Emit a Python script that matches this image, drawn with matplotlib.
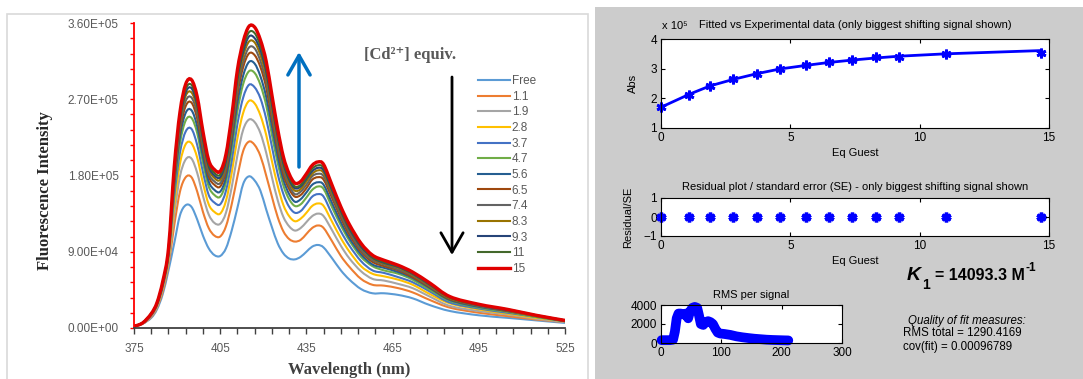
import numpy as np
import matplotlib.pyplot as plt
from matplotlib.patches import Rectangle, PathPatch
from matplotlib.path import Path
from matplotlib.lines import Line2D
from matplotlib.ticker import FuncFormatter

plt.rcParams['font.family'] = ['Liberation Sans', 'DejaVu Sans']

W, H = 1083, 379

# ---- left panel: fluorescence spectra, intensity in units of 1e4 ----
wavelength = [375, 378, 381, 383, 385, 387, 389, 391, 393, 395,
              397, 399, 401, 403, 405, 407, 409, 411, 413, 415,
              417, 419, 421, 423, 425, 427, 429, 431, 433, 435,
              437, 439, 441, 444, 447, 450, 454, 458, 462, 467,
              472, 478, 485, 495, 505, 515, 525]

s_free = [0.2, 0.5, 1.2, 2.2, 4.0, 6.8, 10.0, 13.3, 14.5, 14.3,
          12.8, 10.9, 9.4, 8.6, 8.5, 9.4, 11.5, 14.2, 17.0, 17.9,
          17.4, 16.2, 14.0, 11.9, 10.0, 8.8, 8.2, 8.1, 8.4, 9.0,
          9.6, 9.8, 9.5, 8.2, 6.8, 5.7, 4.6, 4.1, 4.1, 3.9,
          3.5, 2.7, 2.0, 1.5, 1.2, 0.9, 0.6]
s_1_1 = [0.2, 0.5, 1.3, 2.4, 4.3, 7.4, 12.1, 16.1, 17.8, 17.8,
         16.1, 13.7, 11.8, 10.9, 10.8, 12.0, 14.6, 17.9, 20.9, 22.0,
         21.6, 20.3, 18.0, 15.5, 13.1, 11.4, 10.5, 10.2, 10.4, 11.1,
         11.8, 12.1, 11.8, 10.2, 8.5, 7.2, 5.8, 5.1, 5.0, 4.7,
         4.2, 3.3, 2.4, 1.8, 1.4, 1.0, 0.7]
s_1_9 = [0.2, 0.5, 1.4, 2.5, 4.6, 7.8, 13.4, 17.9, 19.9, 20.0,
         18.3, 15.6, 13.4, 12.4, 12.3, 13.6, 16.6, 20.4, 23.4, 24.6,
         24.3, 23.0, 20.7, 17.8, 15.1, 13.1, 12.0, 11.5, 11.8, 12.5,
         13.2, 13.5, 13.2, 11.5, 9.7, 8.2, 6.7, 5.8, 5.6, 5.2,
         4.7, 3.7, 2.6, 2.0, 1.6, 1.1, 0.7]
s_2_8 = [0.2, 0.6, 1.5, 2.6, 4.8, 8.1, 14.5, 19.4, 21.7, 21.8,
         20.1, 17.1, 14.6, 13.7, 13.5, 15.0, 18.3, 22.4, 25.4, 26.8,
         26.5, 25.1, 22.8, 19.7, 16.8, 14.5, 13.2, 12.6, 12.9, 13.6,
         14.4, 14.7, 14.4, 12.5, 10.6, 9.0, 7.3, 6.4, 6.1, 5.7,
         5.1, 4.0, 2.9, 2.2, 1.7, 1.2, 0.8]
s_3_7 = [0.2, 0.6, 1.5, 2.7, 4.9, 8.4, 15.5, 20.7, 23.2, 23.5,
         21.6, 18.4, 15.7, 14.8, 14.6, 16.2, 19.7, 24.1, 27.2, 28.7,
         28.4, 27.1, 24.7, 21.4, 18.2, 15.8, 14.3, 13.6, 13.8, 14.6,
         15.5, 15.8, 15.5, 13.4, 11.4, 9.7, 7.9, 6.8, 6.5, 6.0,
         5.4, 4.3, 3.0, 2.3, 1.8, 1.3, 0.8]
s_4_7 = [0.2, 0.6, 1.6, 2.8, 5.1, 8.6, 16.3, 21.8, 24.5, 24.8,
         23.0, 19.5, 16.7, 15.7, 15.5, 17.2, 21.0, 25.6, 28.8, 30.3,
         30.1, 28.7, 26.3, 22.8, 19.5, 16.8, 15.2, 14.4, 14.6, 15.4,
         16.3, 16.7, 16.4, 14.2, 12.1, 10.3, 8.4, 7.3, 6.8, 6.4,
         5.7, 4.5, 3.2, 2.4, 1.9, 1.3, 0.8]
s_5_6 = [0.2, 0.6, 1.6, 2.8, 5.1, 8.8, 16.8, 22.6, 25.4, 25.7,
         23.8, 20.2, 17.3, 16.3, 16.1, 17.8, 21.8, 26.6, 29.8, 31.4,
         31.2, 29.7, 27.3, 23.8, 20.3, 17.5, 15.8, 14.9, 15.2, 16.0,
         16.9, 17.2, 16.9, 14.7, 12.5, 10.6, 8.7, 7.5, 7.1, 6.6,
         5.9, 4.7, 3.3, 2.5, 2.0, 1.4, 0.8]
s_6_5 = [0.2, 0.6, 1.6, 2.9, 5.2, 8.9, 17.4, 23.3, 26.2, 26.6,
         24.7, 21.0, 17.9, 16.9, 16.7, 18.5, 22.6, 27.6, 30.8, 32.4,
         32.2, 30.8, 28.4, 24.7, 21.1, 18.1, 16.4, 15.5, 15.7, 16.5,
         17.5, 17.8, 17.5, 15.3, 13.0, 11.0, 9.0, 7.8, 7.3, 6.8,
         6.0, 4.8, 3.4, 2.6, 2.0, 1.4, 0.8]
s_7_4 = [0.2, 0.6, 1.6, 2.9, 5.3, 9.0, 17.7, 23.8, 26.8, 27.2,
         25.3, 21.5, 18.3, 17.3, 17.1, 18.9, 23.1, 28.2, 31.4, 33.1,
         33.0, 31.5, 29.1, 25.3, 21.6, 18.6, 16.8, 15.8, 16.1, 16.9,
         17.9, 18.2, 17.9, 15.6, 13.3, 11.3, 9.2, 8.0, 7.5, 6.9,
         6.2, 4.9, 3.5, 2.6, 2.1, 1.4, 0.9]
s_8_3 = [0.2, 0.6, 1.7, 2.9, 5.4, 9.1, 18.1, 24.3, 27.4, 27.8,
         25.9, 22.0, 18.8, 17.7, 17.5, 19.4, 23.7, 28.9, 32.1, 33.8,
         33.7, 32.2, 29.8, 25.9, 22.2, 19.1, 17.2, 16.2, 16.4, 17.3,
         18.2, 18.6, 18.3, 15.9, 13.6, 11.6, 9.5, 8.2, 7.6, 7.1,
         6.3, 5.0, 3.5, 2.7, 2.1, 1.4, 0.9]
s_9_3 = [0.2, 0.6, 1.7, 2.9, 5.4, 9.2, 18.4, 24.6, 27.8, 28.3,
         26.3, 22.3, 19.1, 18.0, 17.8, 19.7, 24.1, 29.4, 32.6, 34.4,
         34.2, 32.8, 30.3, 26.4, 22.6, 19.4, 17.5, 16.5, 16.7, 17.6,
         18.5, 18.9, 18.6, 16.2, 13.8, 11.7, 9.6, 8.3, 7.7, 7.2,
         6.4, 5.1, 3.6, 2.7, 2.1, 1.5, 0.9]
s_11 = [0.2, 0.6, 1.7, 3.0, 5.4, 9.3, 18.6, 25.0, 28.2, 28.7,
        26.7, 22.7, 19.4, 18.3, 18.1, 20.1, 24.5, 29.8, 33.1, 34.9,
        34.8, 33.3, 30.8, 26.9, 23.0, 19.7, 17.8, 16.7, 16.9, 17.8,
        18.8, 19.2, 18.9, 16.5, 14.0, 11.9, 9.8, 8.4, 7.8, 7.3,
        6.5, 5.2, 3.6, 2.7, 2.2, 1.5, 0.9]
s_15 = [0.2, 0.6, 1.7, 3.0, 5.5, 9.4, 19.0, 25.5, 28.8, 29.3,
        27.3, 23.2, 19.8, 18.7, 18.5, 20.5, 25.0, 30.5, 33.8, 35.6,
        35.5, 34.0, 31.5, 27.5, 23.5, 20.2, 18.2, 17.1, 17.3, 18.2,
        19.2, 19.6, 19.3, 16.8, 14.3, 12.2, 10.0, 8.6, 8.0, 7.4,
        6.6, 5.3, 3.7, 2.8, 2.2, 1.5, 0.9]

series = [s_free, s_1_1, s_1_9, s_2_8, s_3_7, s_4_7, s_5_6,
          s_6_5, s_7_4, s_8_3, s_9_3, s_11, s_15]
labels = ['Free', '1.1', '1.9', '2.8', '3.7', '4.7', '5.6',
          '6.5', '7.4', '8.3', '9.3', '11', '15']
colors = ['#5B9BD5', '#ED7D31', '#A5A5A5', '#FFC000', '#4472C4', '#70AD47',
          '#255E91', '#9E480E', '#636363', '#997300', '#264478', '#43682B',
          '#E00000']

# ---- right panel: binding fit (Abs in units of 1e5) ----
eq_guest = [0, 1.1, 1.9, 2.8, 3.7, 4.6, 5.6, 6.5, 7.4, 8.3, 9.2, 11.0, 14.7]
abs_exp = [1.70, 2.12, 2.42, 2.65, 2.83, 2.99, 3.12, 3.22, 3.28, 3.38, 3.41, 3.48, 3.54]
abs_fit = [1.70, 2.14, 2.42, 2.64, 2.83, 2.99, 3.11, 3.21, 3.29, 3.36, 3.42, 3.50, 3.61]
residual_se = [0, 0, 0, 0, 0, 0, 0, 0, 0, 0, 0, 0, 0]

rms_x = [1, 5, 10, 15, 20, 23, 26, 29, 33, 37, 41, 45, 48, 52, 56, 60, 63, 66, 70,
         74, 78, 82, 86, 90, 94, 98, 105, 115, 125, 135, 145, 155, 165, 175,
         185, 195, 205, 211]
rms_y = [300, 300, 300, 300, 350, 1200, 2600, 3100, 3100, 3000, 3100, 2600, 3300,
         3700, 3800, 3700, 2900, 2000, 1900, 2200, 2300, 2200, 2000, 1500, 1100,
         1000, 950, 850, 700, 600, 520, 450, 400, 350, 320, 300, 280, 270]


def box(l, t, r, b):
    return [l / W, 1 - b / H, (r - l) / W, (b - t) / H]


def smooth_line(x, y):
    # Excel-style smoothed line: Bezier segments through every data point
    p = np.column_stack([x, y]).astype(float)
    n = len(p)
    verts = [p[0]]
    codes = [Path.MOVETO]
    for i in range(n - 1):
        p0 = p[i - 1] if i > 0 else p[i]
        p3 = p[i + 2] if i + 2 < n else p[i + 1]
        c1 = p[i] + (p[i + 1] - p0) / 6
        c2 = p[i + 1] - (p3 - p[i]) / 6
        verts += [c1, c2, p[i + 1]]
        codes += [Path.CURVE4] * 3
    return Path(verts, codes)


fig = plt.figure(figsize=(W / 100, H / 100), dpi=100)

# backgrounds
fig.patches.append(Rectangle((595 / W, 0), 1 - 595 / W, 1 - 7 / H, transform=fig.transFigure,
                             facecolor='#cccccc', edgecolor='none', zorder=-10))
fig.patches.append(Rectangle((7 / W, -0.05), (588 - 7) / W, 1.05 - 14 / H, transform=fig.transFigure,
                             fill=False, edgecolor='#d9d9d9', lw=1.2, zorder=-9))

# ---------------- left chart ----------------
ax = fig.add_axes(box(134, 23, 565, 328))
handles = []
for vals, lab, col in zip(series, labels, colors):
    lw = 2.4 if lab == '15' else 1.5
    ax.add_patch(PathPatch(smooth_line(wavelength, np.array(vals) * 1e4), fill=False,
                           edgecolor=col, lw=lw, capstyle='butt'))
    handles.append(Line2D([], [], color=col, lw=lw))

ax.set_xlim(375, 525)
ax.set_ylim(0, 3.6e5)
ax.set_xticks(np.arange(375, 526, 30))
ax.set_xticks(np.arange(375, 526, 6), minor=True)
ax.set_yticks(np.arange(0, 3.61e5, 9e4))
ax.set_yticks(np.arange(0, 3.61e5, 1.8e4), minor=True)
ax.yaxis.set_major_formatter(FuncFormatter(lambda v, p: f'{v:.2E}'))
for s in ['top', 'right']:
    ax.spines[s].set_visible(False)
ax.spines['left'].set_color('#FF0000')
ax.spines['left'].set_linewidth(1.3)
ax.spines['bottom'].set_color('#404040')
ax.spines['bottom'].set_linewidth(1.3)
ax.tick_params(axis='y', which='both', direction='out', length=3, width=1, color='#FF0000',
               labelcolor='#595959', labelsize=8.5, pad=8)
ax.tick_params(axis='x', which='both', direction='out', length=4, width=1, color='#404040',
               labelcolor='#595959', labelsize=8.5, pad=7)

fig.text(45 / W, 1 - 191 / H, 'Fluorescence Intensity', rotation=90, ha='center', va='center',
         family='Liberation Serif', fontweight='bold', fontsize=12, color='#262626')
fig.text(349 / W, 1 - 370 / H, 'Wavelength (nm)', ha='center', va='center',
         family='Liberation Serif', fontweight='bold', fontsize=12, color='#404040')
fig.text(410 / W, 1 - 55 / H, '[Cd²⁺] equiv.', ha='center', va='center',
         family=['Liberation Serif', 'DejaVu Serif'], fontweight='bold', fontsize=12, color='#595959')

ax.legend(handles, labels, loc='upper left', bbox_to_anchor=(478 / W, 1 - 75 / H),
          bbox_transform=fig.transFigure, frameon=False, fontsize=8.5, handlelength=2.7,
          handletextpad=0.15, labelspacing=0.31, borderpad=0, borderaxespad=0,
          labelcolor='#595959')

ax.annotate('', xy=(299, H - 52), xytext=(299, H - 167), xycoords='figure pixels',
            textcoords='figure pixels',
            arrowprops=dict(arrowstyle='->,head_length=0.7,head_width=0.4', color='#0070C0',
                            lw=2.5, mutation_scale=20, shrinkA=0, shrinkB=0))
ax.annotate('', xy=(452, H - 255), xytext=(452, H - 77), xycoords='figure pixels',
            textcoords='figure pixels',
            arrowprops=dict(arrowstyle='->,head_length=0.7,head_width=0.4', color='black',
                            lw=2, mutation_scale=20, shrinkA=0, shrinkB=0))


# ---------------- right panel ----------------
def matlab_axes(a):
    a.set_facecolor('white')
    for s in a.spines.values():
        s.set_linewidth(0.8)
        s.set_color('black')
    a.tick_params(direction='in', top=True, right=True, length=3, width=0.8,
                  labelsize=8.5, pad=3)


ax_fit = fig.add_axes(box(661, 39, 1049, 128))
ax_fit.plot(eq_guest, abs_fit, color='blue', lw=2, clip_on=False)
ax_fit.plot(eq_guest, abs_exp, ls='none', marker=(6, 2, 0), ms=7, mew=2, color='blue', clip_on=False)
ax_fit.set_xlim(0, 15)
ax_fit.set_ylim(1, 4)
ax_fit.set_xticks([0, 5, 10, 15])
ax_fit.set_yticks([1, 2, 3, 4])
matlab_axes(ax_fit)
ax_fit.set_title('Fitted vs Experimental data (only biggest shifting signal shown)', fontsize=8, pad=8)
ax_fit.set_ylabel('Abs', fontsize=8)
ax_fit.yaxis.set_label_coords(-0.059, 0.5)
ax_fit.set_xlabel('Eq Guest', fontsize=8)
ax_fit.xaxis.set_label_coords(0.5, -0.225)
fig.text(662 / W, 1 - 26 / H, 'x 10⁵', fontsize=8, va='center', ha='left')

ax_res = fig.add_axes(box(661, 198, 1049, 236))
ax_res.plot(eq_guest, residual_se, ls='none', marker=(6, 2, 0), ms=7, mew=2.5, color='blue', clip_on=False)
ax_res.set_xlim(0, 15)
ax_res.set_ylim(-1, 1)
ax_res.set_xticks([0, 5, 10, 15])
ax_res.set_yticks([-1, 0, 1])
matlab_axes(ax_res)
ax_res.set_title('Residual plot / standard error (SE) - only biggest shifting signal shown', fontsize=8, pad=6)
ax_res.set_ylabel('Residual/SE', fontsize=8)
ax_res.yaxis.set_label_coords(-0.072, 0.5)
ax_res.set_xlabel('Eq Guest', fontsize=8)
ax_res.xaxis.set_label_coords(0.5, -0.53)

ax_rms = fig.add_axes(box(661, 305, 842, 343))
ax_rms.plot(rms_x, rms_y, color='blue', lw=7, clip_on=False, solid_capstyle='round',
            solid_joinstyle='round')
ax_rms.set_xlim(0, 300)
ax_rms.set_ylim(0, 4000)
ax_rms.set_xticks([0, 100, 200, 300])
ax_rms.set_yticks([0, 2000, 4000])
matlab_axes(ax_rms)
ax_rms.set_title('RMS per signal', fontsize=8, pad=5)

# binding constant and fit quality
fig.canvas.draw()
rend = fig.canvas.get_renderer()
t_k = fig.text(907 / W, 1 - 275 / H, 'K', fontsize=14, fontweight='bold', fontstyle='italic', va='center')
x_end = t_k.get_window_extent(rend).x1
fig.text((x_end + 1) / W, 1 - 285 / H, '1', fontsize=10, fontweight='bold', va='center')
t_eq = fig.text(935 / W, 1 - 275 / H, '= 14093.3 M', fontsize=11.5, fontweight='bold', va='center')
x_end = t_eq.get_window_extent(rend).x1
fig.text((x_end + 1) / W, 1 - 268 / H, '-1', fontsize=8.5, fontweight='bold', va='center')
fig.text(967 / W, 1 - 321 / H, 'Quality of fit measures:', fontsize=8.3, fontstyle='italic',
         ha='center', va='center')
fig.text(903 / W, 1 - 333 / H, 'RMS total = 1290.4169', fontsize=8.3, ha='left', va='center')
fig.text(903 / W, 1 - 347 / H, 'cov(fit) = 0.00096789', fontsize=8.3, ha='left', va='center')

fig.savefig('out.png', dpi=100)
